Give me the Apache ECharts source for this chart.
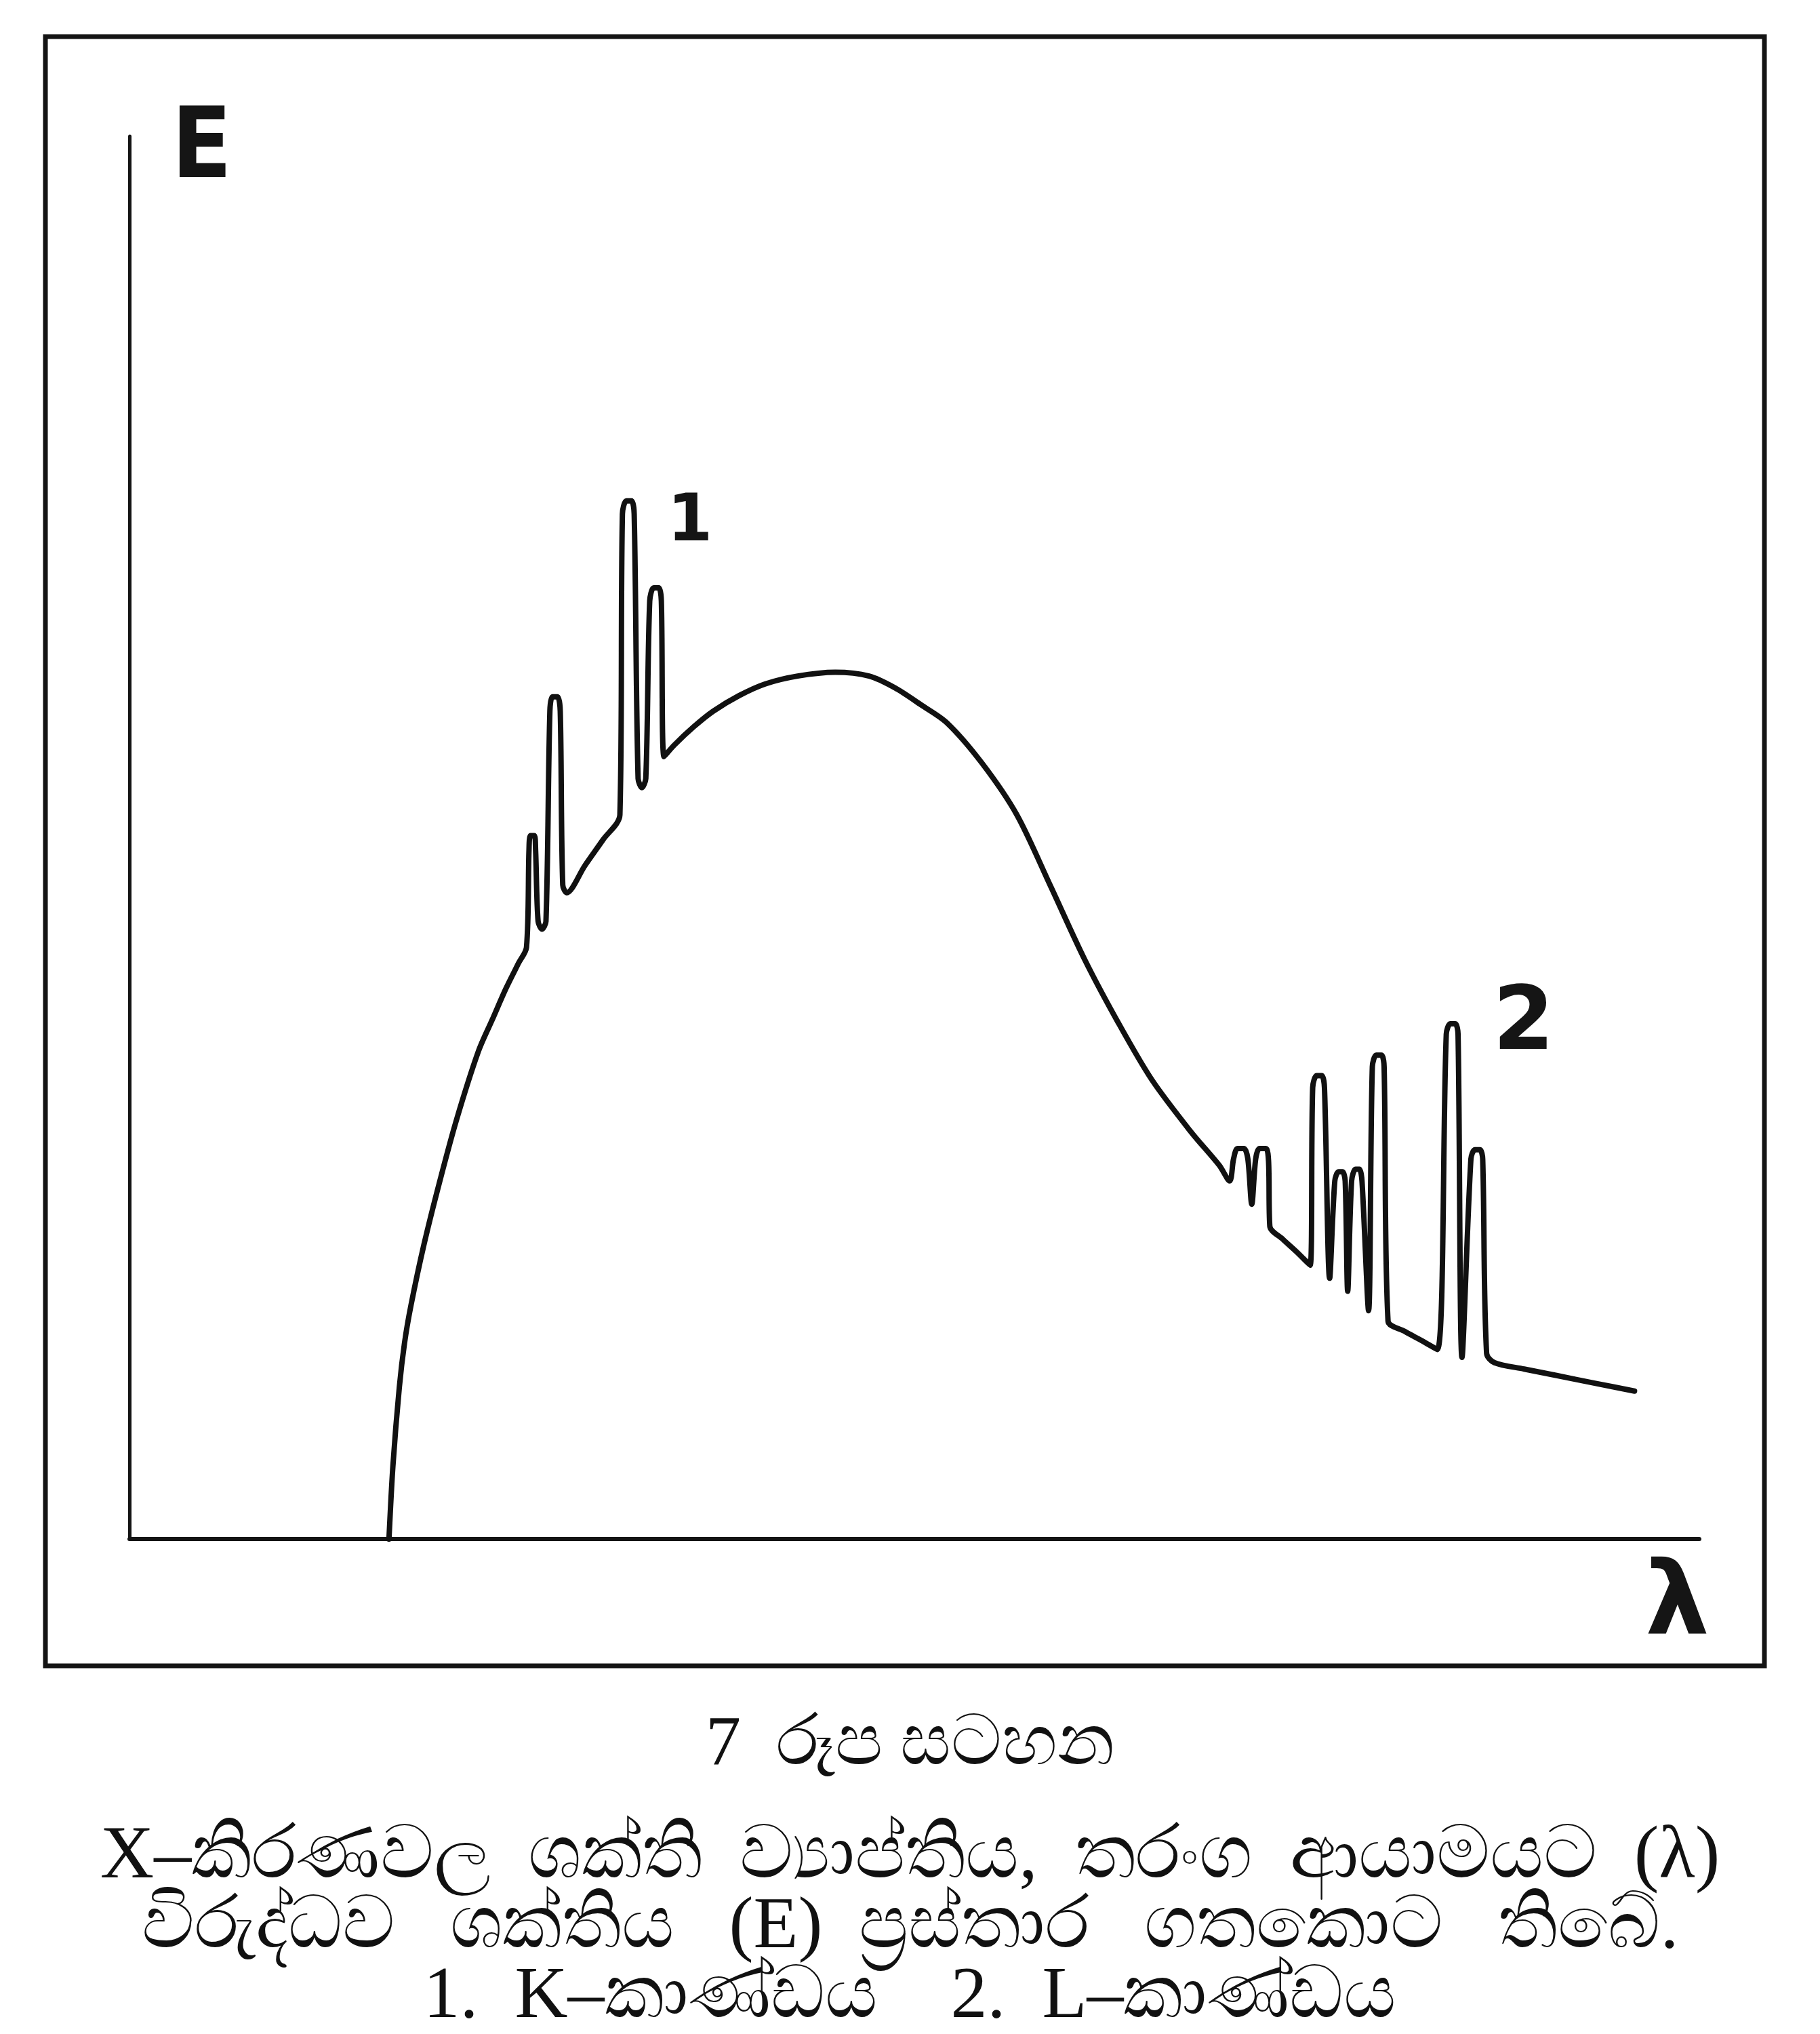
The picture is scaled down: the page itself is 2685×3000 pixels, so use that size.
<!DOCTYPE html>
<html>

<head>
  <meta charset="utf-8">
  <script src="https://cdn.jsdelivr.net/npm/echarts@6/dist/echarts.min.js"></script>
</head>

<style>
  html, body {
    margin: 0;
    width: 100%;
    height: 100%;
    background: #ffffff;
  }
</style>

<body>
  <div id="main" style="width: 2685px;height:3000px;"></div>

  <script>
    // wavelength (arbitrary units, 0-100) and energy (arbitrary units, 0-100)
    var lambdaVals = [
      16.53, 16.78, 17.19, 17.52, 17.93, 18.76, 19.75, 20.83, 22.23, 23.14, 23.97, 24.79, 25.29,
      // K series
      25.45, 25.54, 25.79, 25.87, 26.03, 26.28, 26.53, 26.78, 26.94, 27.27, 27.44, 27.60, 27.85,
      29.01, 30.17, 31.24, 31.40, 31.65, 31.98, 32.15, 32.40, 32.64, 32.89, 33.14, 33.39, 33.72,
      33.88, 34.05,
      // continuum
      34.71, 35.95, 37.19, 38.84, 40.50, 42.56, 44.96, 47.11, 48.76, 50.41, 52.07, 54.30,
      56.53, 58.68, 60.83, 62.98, 65.12, 67.60, 69.42, 70.08,
      // L series
      70.33, 70.58, 70.99, 71.24, 71.49, 71.74, 71.98, 72.40, 72.56, 72.64, 73.47, 74.38, 75.21,
      75.37, 75.62, 75.95, 76.12, 76.45, 76.78, 77.02, 77.27, 77.44, 77.60,
      77.85, 78.10, 78.35, 78.51, 78.93, 79.17, 79.42, 79.75, 79.92, 80.17, 81.24, 82.31, 83.31,
      83.88, 84.13, 84.46, 84.63, 84.88, 85.45, 85.70, 86.03, 86.20, 86.45, 86.94,
      // tail
      88.84, 90.91, 93.39, 95.87
    ];
    var energyVals = [
      0.00, 5.18, 10.82, 13.97, 16.65, 21.00, 25.44, 29.88, 34.78, 37.10, 39.22, 41.07, 42.18,
      49.12, 50.14, 50.14, 49.12, 44.03, 43.48, 44.03, 59.02, 60.04, 60.04, 59.02, 46.62, 46.07,
      48.01, 49.86, 51.62, 73.08, 74.01, 74.01, 73.08, 54.21, 53.56, 54.21, 66.88, 67.81, 67.81,
      66.88, 55.78,
      56.61, 57.91, 59.02, 60.13, 60.96, 61.52, 61.79, 61.52, 60.68, 59.48, 58.19, 55.32,
      51.62, 46.53, 41.35, 36.82, 32.75, 29.05, 26.64, 25.53,
      27.10, 27.84, 27.84, 27.10, 23.87, 27.10, 27.84, 27.84, 26.92, 22.29, 21.37, 20.44, 19.52,
      32.19, 33.03, 33.03, 32.19, 18.59, 25.53, 26.18, 26.18, 25.53, 17.67,
      25.53, 26.36, 26.36, 25.53, 16.28, 33.67, 34.50, 34.50, 33.67, 15.54, 14.80, 14.15, 13.51,
      35.99, 36.73, 36.73, 35.99, 12.95, 27.10, 27.75, 27.75, 27.10, 13.23, 12.58,
      12.12, 11.66, 11.10, 10.55
    ];

    // series labels: 1 = K series, 2 = L series
    var seriesLabels = ['1', '2'];
    var labelLambda = [35.7, 88.8];
    var labelEnergy = [72.4, 36.6];

    var captionLines = [
      '7  රූප සටහන',
      'X–කිරණවල  ශක්ති  ව්‍යාප්තිය,  තරංග  ආයාමයට  (λ)',
      'විරුද්ධව   ශක්තිය   (E)  ප්‍රස්තාර   ගතකොට   තිබේ.',
      '1.  K–කාණ්ඩය    2.  L–කාණ්ඩය'
    ];

    var points = lambdaVals.map(function (x, i) {
      return [x, energyVals[i]];
    });

    var labelPoints = seriesLabels.map(function (t, i) {
      return {
        name: t,
        coord: [labelLambda[i], labelEnergy[i]],
        label: { fontSize: i == 0 ? 96 : 130 }
      };
    });

    var serif = '"Liberation Serif", "DejaVu Serif", serif';
    var sans = '"DejaVu Sans", "Liberation Sans", sans-serif';
    var narrow = '"Liberation Sans Narrow", "DejaVu Sans Condensed", "DejaVu Sans", sans-serif';
    var captionTops = [2518, 2680, 2785, 2888];
    var captionSizes = [104, 110, 108, 108];

    var myChart = echarts.init(document.getElementById('main'));

    option = {
      backgroundColor: '#ffffff',
      animation: false,
      title: captionLines.map(function (t, i) {
        return {
          text: t,
          left: 'center',
          top: captionTops[i],
          textStyle: {
            fontFamily: serif,
            fontWeight: 'normal',
            fontSize: captionSizes[i],
            color: '#111111'
          }
        };
      }),
      graphic: [{
        type: 'rect',
        shape: { x: 67, y: 54, width: 2536, height: 2403 },
        style: { fill: 'none', stroke: '#141414', lineWidth: 7 }
      }],
      grid: {
        left: 191,
        right: 178,
        top: 201,
        bottom: 730
      },
      xAxis: {
        type: 'value',
        min: 0,
        max: 100,
        name: 'λ',
        nameLocation: 'end',
        nameGap: 15,
        nameTextStyle: {
          fontFamily: sans,
          fontWeight: 'bold',
          fontSize: 150,
          color: '#151515',
          align: 'right',
          verticalAlign: 'top',
          padding: [26, 0, 0, 0]
        },
        axisLine: { lineStyle: { color: '#141414', width: 6 } },
        axisTick: { show: false },
        axisLabel: { show: false },
        splitLine: { show: false }
      },
      yAxis: {
        type: 'value',
        min: 0,
        max: 100,
        name: 'E',
        nameLocation: 'end',
        nameGap: -95,
        nameTextStyle: {
          fontFamily: narrow,
          fontWeight: 'bold',
          fontSize: 145,
          color: '#151515',
          align: 'left',
          verticalAlign: 'bottom',
          padding: [0, 0, 0, 62]
        },
        axisLine: { lineStyle: { color: '#141414', width: 5 } },
        axisTick: { show: false },
        axisLabel: { show: false },
        splitLine: { show: false }
      },
      series: [{
        type: 'line',
        data: points,
        showSymbol: false,
        smooth: 0.3,
        lineStyle: { color: '#111111', width: 8, join: 'round', cap: 'round' },
        markPoint: {
          symbol: 'circle',
          symbolSize: 1,
          itemStyle: { color: 'rgba(0,0,0,0)' },
          label: {
            show: true,
            position: 'inside',
            formatter: '{b}',
            fontFamily: sans,
            fontWeight: 'bold',
            color: '#151515'
          },
          data: labelPoints
        }
      }]
    };

    myChart.setOption(option);
  </script>
</body>

</html>
